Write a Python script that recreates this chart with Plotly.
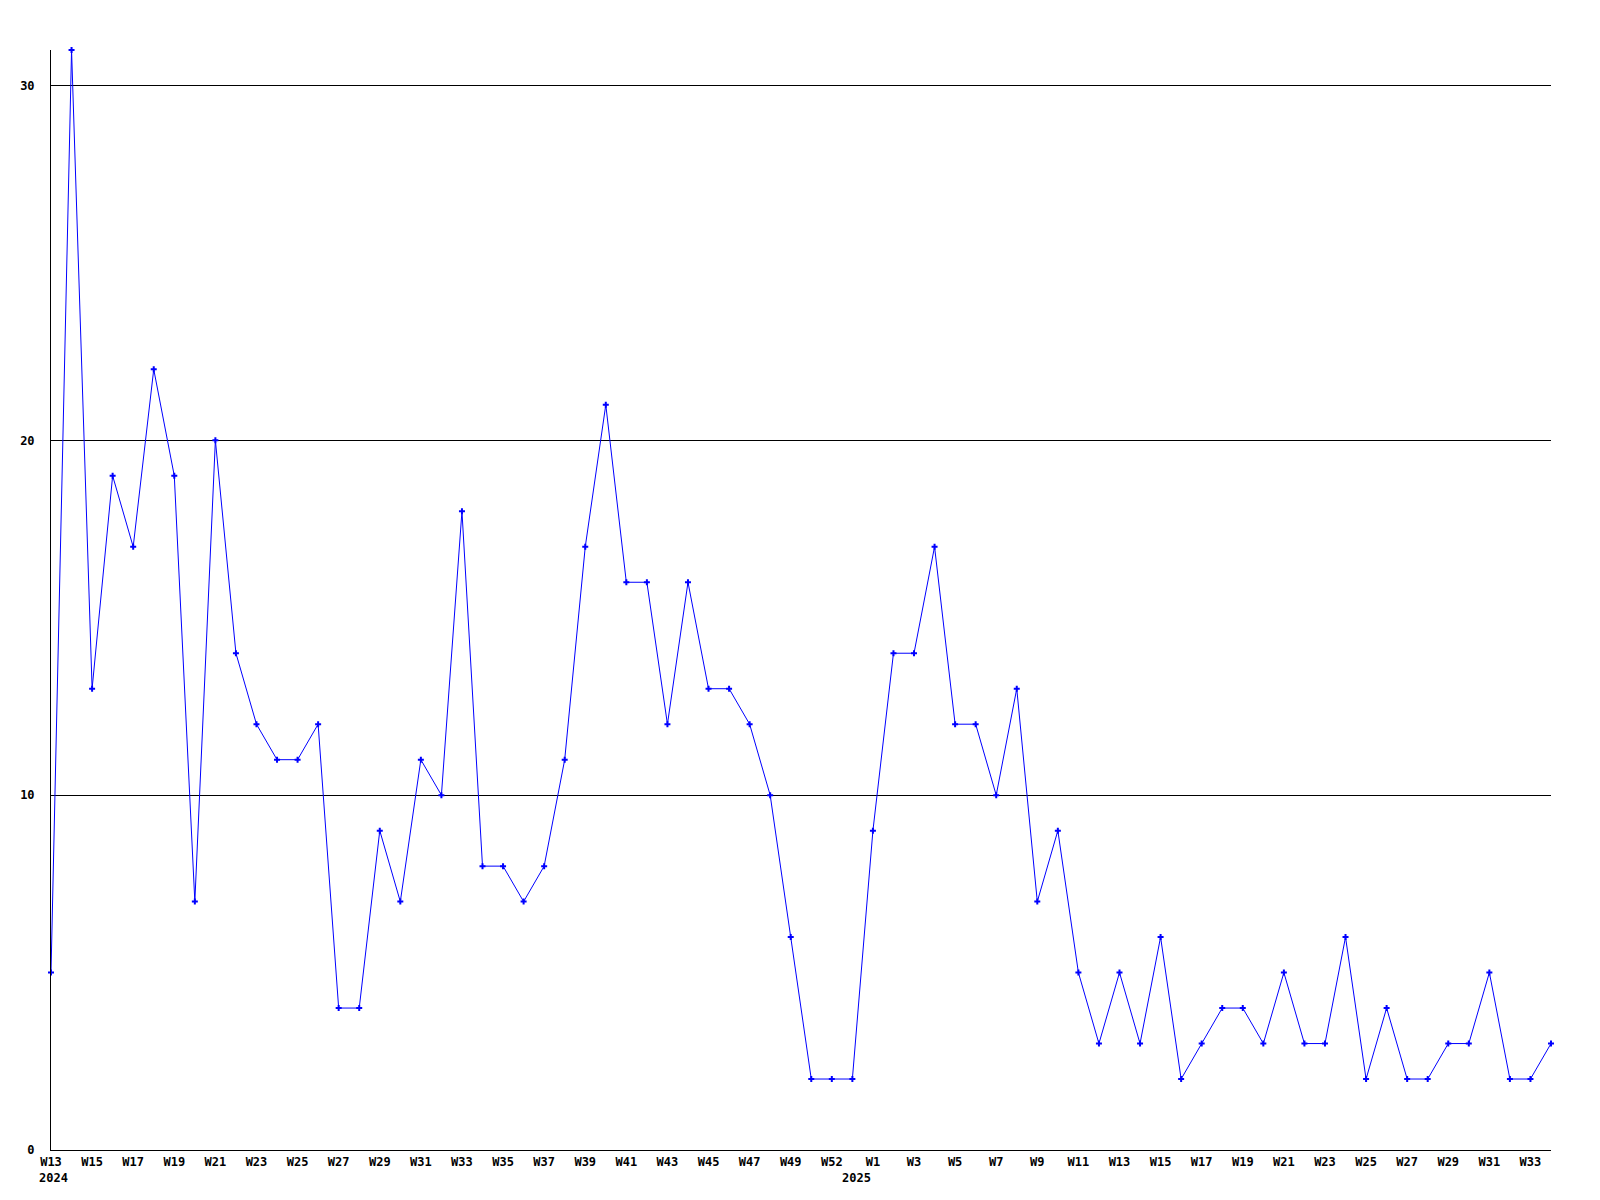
import plotly.graph_objects as go

weeks_2024 = [f"2024-W{w}" for w in range(13, 53)]
weeks_2025 = [f"2025-W{w}" for w in range(1, 35)]
categories = weeks_2024 + weeks_2025

values = [5, 31, 13, 19, 17, 22, 19, 7, 20, 14, 12, 11, 11, 12, 4, 4, 9, 7, 11, 10,
          18, 8, 8, 7, 8, 11, 17, 21, 16, 16, 12, 16, 13, 13, 12, 10, 6, 2, 2, 2,
          9, 14, 14, 17, 12, 12, 10, 13, 7, 9, 5, 3, 5, 3, 6, 2, 3, 4, 4, 3,
          5, 3, 3, 6, 2, 4, 2, 2, 3, 3, 5, 2, 2, 3]

tick_vals = [f"2024-W{w}" for w in range(13, 50, 2)] + ["2024-W51"] + \
            [f"2025-W{w}" for w in range(1, 34, 2)]
tick_text = [f"W{w}" for w in range(13, 50, 2)] + ["W52"] + \
            [f"W{w}" for w in range(1, 34, 2)]

year_labels = ["2024", "2025"]
year_anchor = ["2024-W13", "2024-W52"]
year_shift = [2, 4]

y_ticks = [0, 10, 20, 30]

font_family = "DejaVu Sans Mono"

fig = go.Figure()
fig.add_trace(go.Scatter(
    x=categories, y=values, mode="lines+markers",
    line=dict(color="#0000FF", width=1),
    marker=dict(symbol="cross", size=5, color="#0000FF"),
    cliponaxis=False, showlegend=False,
))

for txt, anc, sh in zip(year_labels, year_anchor, year_shift):
    fig.add_annotation(x=anc, y=0, xref="x", yref="paper", text=txt,
                       showarrow=False, yanchor="top", yshift=-19, xshift=sh,
                       font=dict(family=font_family, size=12, color="black", weight="bold"))

fig.update_layout(
    width=1600, height=1200,
    margin=dict(l=40, r=57, t=42, b=58),
    plot_bgcolor="white", paper_bgcolor="white",
    font=dict(family=font_family, size=12, color="black"),
)
fig.update_xaxes(
    type="category", categoryorder="array", categoryarray=categories,
    range=[0, len(categories) - 1],
    tickmode="array", tickvals=tick_vals, ticktext=tick_text, tickangle=0,
    showgrid=False, zeroline=False, showline=True, linecolor="black", linewidth=1,
    ticks="", ticklabelstandoff=1,
    tickfont=dict(family=font_family, size=12, color="black", weight="bold"),
)
fig.update_yaxes(
    range=[0, 31], tickmode="array", tickvals=y_ticks,
    showgrid=True, gridcolor="black", gridwidth=1, zeroline=False,
    showline=True, linecolor="black", linewidth=1,
    ticks="", ticklabelstandoff=13,
    tickfont=dict(family=font_family, size=12, color="black", weight="bold"),
)

fig.write_html("out.html")
